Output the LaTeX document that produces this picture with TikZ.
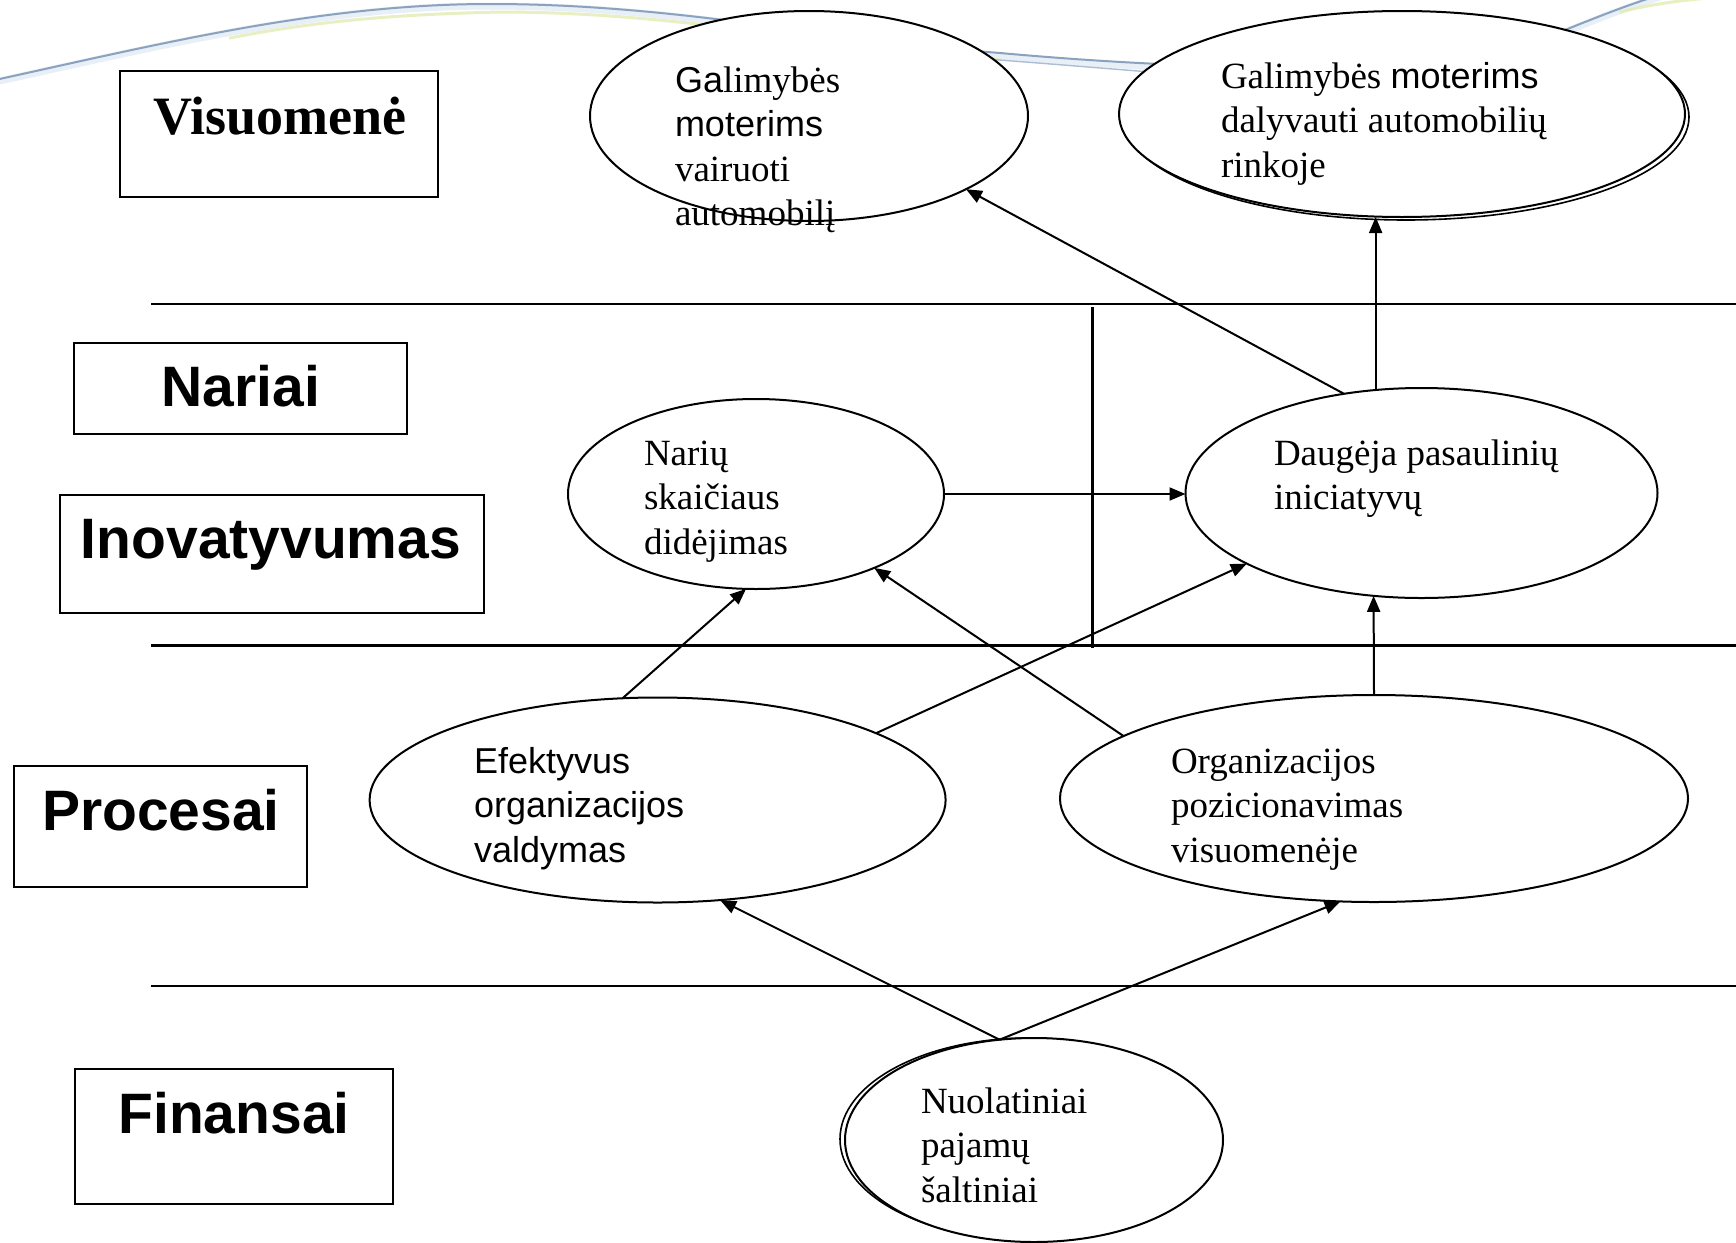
\documentclass[tikz,border=0pt]{standalone}
\usepackage{fontspec}
\setmainfont{Liberation Serif}
\newfontfamily\plainsans{Liberation Sans}
\usetikzlibrary{arrows.meta,shapes.geometric}

\definecolor{swooshblue}{HTML}{8AA2BE}
\definecolor{swooshhaze}{HTML}{D3E0EE}
\definecolor{swooshlime}{HTML}{E2ECB4}

\begin{document}
\begin{tikzpicture}[x=1pt,y=-1pt,
  every node/.style={inner sep=0pt, outer sep=0pt},
  tierbox/.style={draw, line width=2pt, rectangle},
  bubble/.style={draw, line width=2pt, ellipse, fill=white},
  bubbleedge/.style={draw, line width=1.6pt, ellipse},
  link/.style={line width=2pt, -{Triangle[length=16pt,width=13pt]}},
  body/.style={font=\fontsize{37}{44.5}\selectfont, anchor=base west},
  tiername/.style={font=\plainsans\fontsize{57}{60}\selectfont\bfseries, anchor=base}
]
% page
\path[use as bounding box, fill=white] (0,0) rectangle (1736,1242);

% decorative swoosh along the top
\draw[swooshhaze, line width=7pt, line cap=round, opacity=0.5]
  (-5,82) .. controls (160,46) and (320,6) .. (490,6) .. controls (680,6) and (830,42) .. (1000,56)
  .. controls (1200,74) and (1450,82) .. (1570,30) .. controls (1610,14) and (1640,2) .. (1690,-12);
\draw[swooshlime, line width=3pt, line cap=round, opacity=0.8]
  (230,38) .. controls (330,18) and (420,14) .. (500,12) .. controls (680,12) and (830,46) .. (1000,60);
\draw[swooshlime, line width=3pt, line cap=round, opacity=0.8]
  (1620,12) .. controls (1660,2) and (1700,-2) .. (1740,-4);
\draw[swooshblue, line width=2pt, line cap=round]
  (-5,80) .. controls (160,44) and (320,4) .. (490,4) .. controls (680,4) and (830,40) .. (1000,53)
  .. controls (1200,71) and (1450,79) .. (1570,28) .. controls (1610,12) and (1640,0) .. (1690,-14);
\draw[swooshblue!70, line width=1.4pt]
  (960,57) .. controls (1040,63) and (1100,68) .. (1150,72);

% tier rules
\draw[line width=2pt] (151,304) -- (1736,304);
\draw[line width=3pt] (151,645) -- (1736,645);
\draw[line width=2pt] (151,986) -- (1736,986);
\draw[line width=3pt] (1092,307) -- (1092,648);

% tier boxes and names
\node[tierbox, minimum width=318pt, minimum height=126pt] (bvis) at (279,134) {};
\node[tierbox, minimum width=333pt, minimum height=91pt] (bnar) at (240.5,388.5) {};
\node[tierbox, minimum width=424pt, minimum height=118pt] (binv) at (272,554) {};
\node[tierbox, minimum width=293pt, minimum height=121pt] (bpro) at (160.5,826.5) {};
\node[tierbox, minimum width=318pt, minimum height=135pt] (bfin) at (234,1136.5) {};

\node[font=\fontsize{54}{60}\selectfont\bfseries, anchor=base] (nvis) at (280,134) {Visuomenė};
\node[tiername] (nnar) at (241,406) {Nariai};
\node[tiername] (ninv) at (271,558) {Inovatyvumas};
\node[tiername] (npro) at (161,830) {Procesai};
\node[tiername] (nfin) at (234,1133) {Finansai};

% goal ellipses
\node[bubble, minimum width=438pt, minimum height=210pt] (e1) at (809,116) {};
\node[bubbleedge, minimum width=566pt, minimum height=206pt] (e2b) at (1406,117) {};
\node[bubble, minimum width=566pt, minimum height=206pt] (e2) at (1402,114) {};
\node[bubble, minimum width=376pt, minimum height=190pt] (e3) at (756,494) {};
\node[bubble, minimum width=472pt, minimum height=210pt] (e4) at (1421.5,493) {};
\node[bubble, minimum width=576pt, minimum height=205pt] (e5) at (657.6,800) {};
\node[bubble, minimum width=628pt, minimum height=207pt] (e6) at (1374,798.5) {};
\node[bubbleedge, minimum width=378pt, minimum height=202pt] (e7b) at (1029,1139) {};
\node[bubble, minimum width=378pt, minimum height=204pt] (e7) at (1034,1140) {};

% ellipse texts
\node[body] (t1) at (675,92) {\begin{tabular}[t]{@{}l@{}}{\plainsans\fontsize{36}{44.5}\selectfont Ga}limybės\\ {\plainsans\fontsize{36}{44.5}\selectfont moterims}\\ vairuoti\\ automobilį\end{tabular}};
\node[body] (t2) at (1221,88) {\begin{tabular}[t]{@{}l@{}}Galimybės {\plainsans\fontsize{36}{44.5}\selectfont moterims}\\ dalyvauti automobilių\\ rinkoje\end{tabular}};
\node[body] (t3) at (644,465) {\begin{tabular}[t]{@{}l@{}}Narių\\ skaičiaus\\ didėjimas\end{tabular}};
\node[body] (t4) at (1274,465) {\begin{tabular}[t]{@{}l@{}}Daugėja pasaulinių\\ iniciatyvų\end{tabular}};
\node[body, font=\plainsans\fontsize{36}{44.5}\selectfont] (t5) at (474,773) {\begin{tabular}[t]{@{}l@{}}Efektyvus\\ organizacijos\\ valdymas\end{tabular}};
\node[body] (t6) at (1171,773) {\begin{tabular}[t]{@{}l@{}}Organizacijos\\ pozicionavimas\\ visuomenėje\end{tabular}};
\node[body] (t7) at (921,1113) {\begin{tabular}[t]{@{}l@{}}Nuolatiniai\\ pajamų\\ šaltiniai\end{tabular}};

% links
\draw[link] (e4.128.4) -- (e1.335.9);
\draw[link] (e4.114.8) -- (e4.114.8 |- e2.south);
\draw[link] (e3.east) -- (e3.east -| e4.west);
\draw[link] (e5.109.8) -- (e3.264.3);
\draw[link] (e5.17.5) -- (e4.202.3);
\draw[link] (e6.166) -- (e3.328.4);
\draw[link] (e6.north) -- (e4.245.2);
\draw[link] (e7.109.3) -- (e5.302);
\draw[link] (e7.109.3) -- (e6.252.7);
\end{tikzpicture}
\end{document}
